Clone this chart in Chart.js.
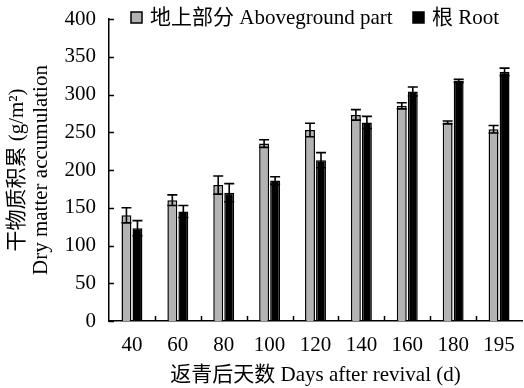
<!DOCTYPE html>
<html>
<head>
<meta charset="utf-8">
<script src="https://cdn.jsdelivr.net/npm/chart.js@4"></script>
<style>
  html, body { margin: 0; padding: 0; background: #fff; }
  #wrap { width: 524px; height: 388px; }
</style>
</head>
<body>
<div id="wrap"><canvas id="dmChart" width="524" height="388"></canvas></div>
<script>
// data
const days = ['40', '60', '80', '100', '120', '140', '160', '180', '195'];
const shoot = [140, 160, 180, 235, 253, 273, 285, 263, 254];
const shootErr = [10, 7, 12, 5, 9, 7, 4, 2, 5];
const root = [123, 145, 170, 186, 213, 263, 304, 318, 330];
const rootErr = [10, 8, 12, 5, 10, 8, 6, 2, 5];
const yTicks = [0, 50, 100, 150, 200, 250, 300, 350, 400];

const FONT = "'Liberation Serif', 'Times New Roman', 'Noto Sans CJK SC', serif";

// error bars (symmetric, drawn through the y scale)
const errorBars = {
    id: 'errorBars',
    afterDatasetsDraw(chart) {
        const ctx = chart.ctx;
        const y = chart.scales.y;
        const errs = [shootErr, rootErr];
        ctx.save();
        ctx.strokeStyle = '#000';
        ctx.lineWidth = 1.6;
        chart.data.datasets.forEach((ds, i) => {
            const meta = chart.getDatasetMeta(i);
            meta.data.forEach((bar, j) => {
                const v = ds.data[j];
                const e = errs[i][j];
                const top = y.getPixelForValue(v + e);
                const bot = y.getPixelForValue(v - e);
                ctx.beginPath();
                ctx.moveTo(bar.x, top);
                ctx.lineTo(bar.x, bot);
                ctx.moveTo(bar.x - 5, top);
                ctx.lineTo(bar.x + 5, top);
                ctx.moveTo(bar.x - 5, bot);
                ctx.lineTo(bar.x + 5, bot);
                ctx.stroke();
            });
        });
        ctx.restore();
    }
};

// inward tick marks + legend drawn over the plot
const extras = {
    id: 'extras',
    afterDraw(chart) {
        const ctx = chart.ctx;
        const a = chart.chartArea;
        const y = chart.scales.y;
        ctx.save();
        ctx.strokeStyle = '#000';
        ctx.lineWidth = 1.5;
        ctx.beginPath();
        yTicks.forEach(t => {
            const py = Math.round(y.getPixelForValue(t)) + 0.5;
            ctx.moveTo(a.left, py);
            ctx.lineTo(a.left + 5, py);
        });
        const w = (a.right - a.left) / days.length;
        for (let k = 1; k < days.length; k++) {
            const px = Math.round(a.left + k * w) + 0.5;
            ctx.moveTo(px, a.bottom);
            ctx.lineTo(px, a.bottom - 5);
        }
        ctx.stroke();

        // legend
        const items = [
            { label: '地上部分 Aboveground part', color: '#b3b3b3', x: 131 },
            { label: '根 Root', color: '#000', x: 413 }
        ];
        ctx.font = '21px ' + FONT;
        ctx.textBaseline = 'middle';
        items.forEach(it => {
            ctx.fillStyle = it.color;
            ctx.fillRect(it.x, 12, 11, 11);
            ctx.strokeStyle = '#000';
            ctx.lineWidth = 1.5;
            ctx.strokeRect(it.x, 12, 11, 11);
            ctx.fillStyle = '#000';
            ctx.fillText(it.label, it.x + 19, 18);
        });
        ctx.restore();
    }
};

const ctx = document.getElementById('dmChart').getContext('2d');
const dmChart = new Chart(ctx, {
    type: 'bar',
    data: {
        labels: days,
        datasets: [{
            label: '地上部分 Aboveground part',
            data: shoot,
            backgroundColor: '#b3b3b3',
            borderColor: '#000',
            borderWidth: 1.5,
            barPercentage: 0.9,
            categoryPercentage: 0.48
        }, {
            label: '根 Root',
            data: root,
            backgroundColor: '#000',
            borderColor: '#000',
            borderWidth: 1.5,
            barPercentage: 0.9,
            categoryPercentage: 0.48
        }]
    },
    options: {
        responsive: false,
        animation: false,
        layout: { padding: { top: 19, right: 2, left: 5, bottom: 0 } },
        plugins: {
            legend: { display: false },
            tooltip: { enabled: false }
        },
        scales: {
            x: {
                grid: { display: false, drawTicks: false },
                border: { display: true, color: '#000', width: 1.5 },
                ticks: { color: '#000', font: { family: FONT, size: 21 }, padding: 12, maxRotation: 0 },
                afterFit(scale) {
                    scale.height = 67;
                    scale.paddingLeft = 0;
                    scale.paddingRight = 0;
                },
                title: {
                    display: true,
                    text: '返青后天数 Days after revival (d)',
                    color: '#000',
                    font: { family: FONT, size: 21, lineHeight: 1.05 },
                    padding: { top: 1, bottom: 1 }
                }
            },
            y: {
                min: 0,
                max: 400,
                grid: { display: false, drawTicks: false },
                border: { display: true, color: '#000', width: 1.5 },
                ticks: { stepSize: 50, color: '#000', font: { family: FONT, size: 21, lineHeight: 1.0 }, padding: 13 },
                afterBuildTicks(scale) {
                    scale.ticks = yTicks.map(v => ({ value: v }));
                },
                afterFit(scale) {
                    scale.width = 104;
                    scale.paddingTop = 0;
                    scale.paddingBottom = 0;
                },
                title: {
                    display: true,
                    text: ['干物质积累 (g/m²)', 'Dry matter accumulation'],
                    color: '#000',
                    font: { family: FONT, size: 21, lineHeight: 1.15 },
                    padding: { top: 0, bottom: 1 }
                }
            }
        }
    },
    plugins: [errorBars, extras]
});
</script>
</body>
</html>
